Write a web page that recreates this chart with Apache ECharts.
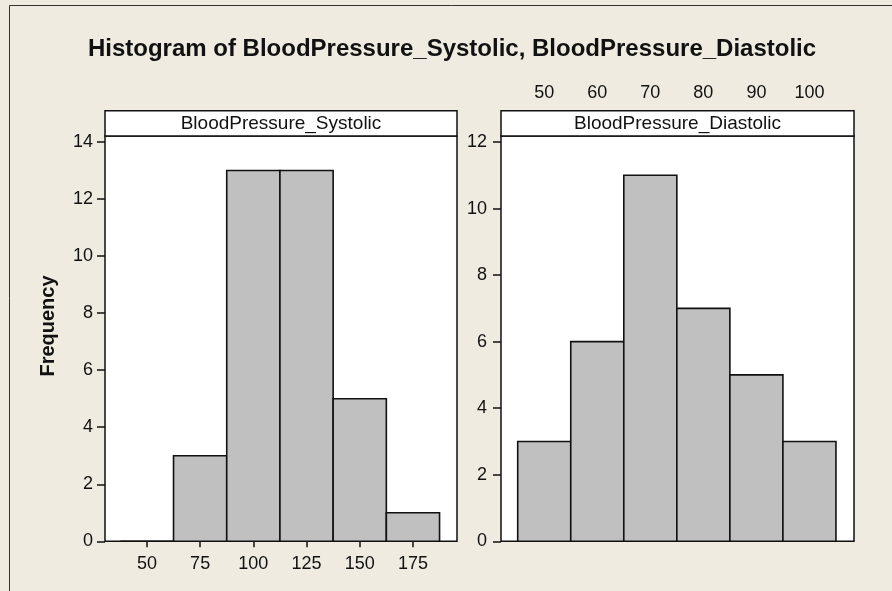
<!DOCTYPE html>
<html>
<head>
<meta charset="utf-8">
<script src="https://cdn.jsdelivr.net/npm/echarts@6/dist/echarts.min.js"></script>
<style>
  html, body { margin: 0; padding: 0; background: #efebe0; }
  #chart { width: 892px; height: 591px; }
</style>
</head>
<body>
<div id="chart"></div>
<script>
// histogram data
const sysEdges = [37.5, 62.5, 87.5, 112.5, 137.5, 162.5, 187.5];
const sysCounts = [0, 3, 13, 13, 5, 1];
const diaEdges = [45, 55, 65, 75, 85, 95, 105];
const diaCounts = [3, 6, 11, 7, 5, 3];

const sysTicks = [50, 75, 100, 125, 150, 175];
const diaTicks = [50, 60, 70, 80, 90, 100];
const sysFreqTicks = [0, 2, 4, 6, 8, 10, 12, 14];
const diaFreqTicks = [0, 2, 4, 6, 8, 10, 12];

const FONT = '"Liberation Sans", Arial, sans-serif';
const INK = '#111';

// panel layout
const plotTop = 136;
const plotH = 405.3;
const stripH = 25.3;
const panels = [
  { left: 105, width: 352, name: 'BloodPressure_Systolic' },
  { left: 501, width: 353, name: 'BloodPressure_Diastolic' }
];

function toBins(edges, counts) {
  return counts.map((c, i) => [edges[i], edges[i + 1], c]);
}

function renderBar(params, api) {
  const top = api.coord([api.value(0), api.value(2)]);
  const bot = api.coord([api.value(1), 0]);
  return {
    type: 'rect',
    shape: { x: top[0], y: top[1], width: bot[0] - top[0], height: bot[1] - top[1] },
    style: { fill: '#c0c0c0', stroke: INK, lineWidth: 1.6 }
  };
}

const labelStyle = { fontFamily: FONT, fontSize: 18, color: INK };
const tickStyle = { color: INK, width: 1.5 };

const chart = echarts.init(document.getElementById('chart'));

chart.setOption({
  backgroundColor: '#efebe0',
  animation: false,
  grid: panels.map(p => ({
    left: p.left, top: plotTop, width: p.width, height: plotH,
    show: true, backgroundColor: '#fff', borderColor: INK, borderWidth: 1.5
  })),
  xAxis: [
    {
      type: 'value', gridIndex: 0, min: 30.3, max: 195.7, position: 'bottom',
      axisLine: { show: false },
      axisTick: { show: true, length: 6, customValues: sysTicks, lineStyle: tickStyle },
      axisLabel: Object.assign({ customValues: sysTicks, margin: 14 }, labelStyle),
      splitLine: { show: false }
    },
    {
      type: 'value', gridIndex: 1, min: 41.85, max: 108.4, position: 'top', offset: stripH,
      axisLine: { show: false },
      axisTick: { show: true, length: 7.5, customValues: diaTicks, lineStyle: tickStyle },
      axisLabel: Object.assign({ customValues: diaTicks, margin: 9 }, labelStyle),
      splitLine: { show: false }
    }
  ],
  yAxis: [
    {
      type: 'value', gridIndex: 0, min: 0, max: 14.21,
      axisLine: { show: false },
      axisTick: { show: true, length: 8, customValues: sysFreqTicks, lineStyle: tickStyle },
      axisLabel: Object.assign({ customValues: sysFreqTicks, margin: 12 }, labelStyle),
      splitLine: { show: false }
    },
    {
      type: 'value', gridIndex: 1, min: 0, max: 12.18,
      axisLine: { show: false },
      axisTick: { show: true, length: 8, customValues: diaFreqTicks, lineStyle: tickStyle },
      axisLabel: Object.assign({ customValues: diaFreqTicks, margin: 14 }, labelStyle),
      splitLine: { show: false }
    }
  ],
  graphic: [
    // outer frame (only top and left edges visible)
    {
      type: 'rect', shape: { x: 9.5, y: 5.5, width: 1000, height: 1000 },
      style: { fill: 'none', stroke: '#333', lineWidth: 1 }, silent: true
    },
    {
      type: 'text', x: 452, y: 49,
      style: {
        text: 'Histogram of BloodPressure_Systolic, BloodPressure_Diastolic',
        fontFamily: FONT, fontSize: 24, fontWeight: 'bold', fill: INK,
        textAlign: 'center', textVerticalAlign: 'middle'
      }
    },
    {
      type: 'text', x: 48, y: 326, rotation: Math.PI / 2,
      style: {
        text: 'Frequency', fontFamily: FONT, fontSize: 20, fontWeight: 'bold', fill: INK,
        textAlign: 'center', textVerticalAlign: 'middle'
      }
    }
  ].concat(panels.flatMap(p => [
    {
      type: 'rect', shape: { x: p.left, y: plotTop - stripH, width: p.width, height: stripH },
      style: { fill: '#fff', stroke: INK, lineWidth: 1.5 }
    },
    {
      type: 'text', x: p.left + p.width / 2, y: plotTop - stripH / 2,
      style: {
        text: p.name, fontFamily: FONT, fontSize: 19, fill: INK,
        textAlign: 'center', textVerticalAlign: 'middle'
      }
    }
  ])),
  series: [
    {
      type: 'custom', xAxisIndex: 0, yAxisIndex: 0,
      encode: { x: [0, 1], y: 2 },
      data: toBins(sysEdges, sysCounts),
      renderItem: renderBar
    },
    {
      type: 'custom', xAxisIndex: 1, yAxisIndex: 1,
      encode: { x: [0, 1], y: 2 },
      data: toBins(diaEdges, diaCounts),
      renderItem: renderBar
    }
  ]
});
</script>
</body>
</html>
